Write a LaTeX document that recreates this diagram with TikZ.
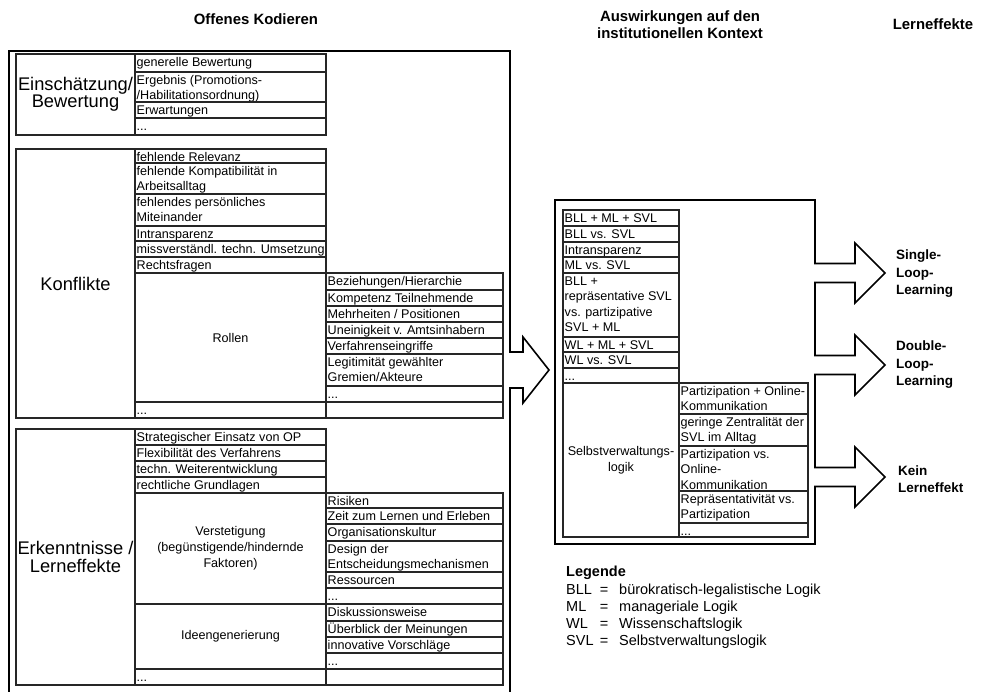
\documentclass[tikz,border=0pt]{standalone}
\usepackage{fontspec}
\setmainfont{Liberation Sans}
\newcommand\tcell[6]{%
  \draw[cell] (#2,#3) rectangle (#4,#5);
  \node[ctext] (#1) at ({#2+1.5},{#3+12.3}) {\parbox[t]{300pt}{\raggedright #6}};}
\newcommand\lcell[7]{%
  \draw[cell] (#2,#3) rectangle (#4,#5);
  \node[#6] (#1) at ({(#2+#4)/2},{(#3+#5)/2}) {#7};}
\begin{document}
\begin{tikzpicture}[x=1pt,y=-1pt,
  cell/.style={draw=black!85, line width=1.1pt},
  box/.style={draw=black, line width=1.6pt, line join=miter},
  ctext/.style={anchor=base west, inner sep=0pt, font=\fontsize{12.6}{15.5}\selectfont},
  clabel/.style={align=center, inner sep=0pt, font=\fontsize{12.6}{16}\selectfont},
  biglabel/.style={align=center, inner sep=0pt, font=\fontsize{18.3}{17.5}\selectfont},
  head/.style={align=center, inner sep=0pt, font=\bfseries\fontsize{14.9}{17}\selectfont},
  alab/.style={align=left, anchor=west, inner sep=0pt, font=\bfseries\fontsize{13.5}{17.5}\selectfont},
  legh/.style={anchor=base west, inner sep=0pt, font=\bfseries\fontsize{14.5}{17}\selectfont},
  legt/.style={anchor=base west, inner sep=0pt, font=\fontsize{14.5}{17}\selectfont},
  lege/.style={anchor=base, inner sep=0pt, font=\fontsize{14.5}{17}\selectfont}]
\useasboundingbox (0,0) rectangle (982,691);
% headers
\node[head] (h1) at (256,19) {Offenes Kodieren};
\node[head] (h2) at (680,25) {Auswirkungen auf den\\institutionellen Kontext};
\node[head] (h3) at (933,24) {Lerneffekte};
% outer left box with arrow
\draw[box] (9,700) -- (9,51) -- (510,51) -- (510,352) -- (523,352) -- (523,337) -- (549,370) -- (523,403) -- (523,388) -- (510,388) -- (510,700);
% section 1
\lcell{s1}{16}{54}{135}{135}{biglabel}{Einschätzung/\\Bewertung}
\tcell{s1a}{135}{54}{326}{72}{generelle Bewertung}
\tcell{s1b}{135}{72}{326}{102}{Ergebnis (Promotions-\\/Habilitationsordnung)}
\tcell{s1c}{135}{102}{326}{118}{Erwartungen}
\tcell{s1d}{135}{118}{326}{135}{...}
% section 2
\lcell{s2}{16}{149}{135}{418}{biglabel}{Konflikte}
\tcell{s2a}{135}{149}{326}{163}{fehlende Relevanz}
\tcell{s2b}{135}{163}{326}{194}{fehlende Kompatibilität in\\Arbeitsalltag}
\tcell{s2c}{135}{194}{326}{226}{fehlendes persönliches\\Miteinander}
\tcell{s2d}{135}{226}{326}{241}{Intransparenz}
\tcell{s2e}{135}{241}{326}{257}{missverständl. techn. Umsetzung}
\tcell{s2f}{135}{257}{326}{273}{Rechtsfragen}
\lcell{s2g}{135}{273}{326}{402}{clabel}{Rollen}
\tcell{s2h}{135}{402}{326}{418}{...}
\tcell{r1}{326}{273}{503}{290}{Beziehungen/Hierarchie}
\tcell{r2}{326}{290}{503}{306}{Kompetenz Teilnehmende}
\tcell{r3}{326}{306}{503}{322}{Mehrheiten / Positionen}
\tcell{r4}{326}{322}{503}{338}{Uneinigkeit v. Amtsinhabern}
\tcell{r5}{326}{338}{503}{354}{Verfahrenseingriffe}
\tcell{r6}{326}{354}{503}{386}{Legitimität gewählter\\Gremien/Akteure}
\tcell{r7}{326}{386}{503}{402}{...}
\tcell{r8}{326}{402}{503}{418}{}
% section 3
\lcell{s3}{16}{429}{135}{685}{biglabel}{Erkenntnisse /\\Lerneffekte}
\tcell{s3a}{135}{429}{326}{445}{Strategischer Einsatz von OP}
\tcell{s3b}{135}{445}{326}{461}{Flexibilität des Verfahrens}
\tcell{s3c}{135}{461}{326}{477}{techn. Weiterentwicklung}
\tcell{s3d}{135}{477}{326}{493}{rechtliche Grundlagen}
\lcell{s3e}{135}{493}{326}{604}{clabel}{Verstetigung\\(begünstigende/hindernde\\Faktoren)}
\lcell{s3f}{135}{604}{326}{669}{clabel}{Ideengenerierung}
\tcell{s3g}{135}{669}{326}{685}{...}
\tcell{v1}{326}{493}{503}{508}{Risiken}
\tcell{v2}{326}{508}{503}{524}{Zeit zum Lernen und Erleben}
\tcell{v3}{326}{524}{503}{541}{Organisationskultur}
\tcell{v4}{326}{541}{503}{572}{Design der\\Entscheidungsmechanismen}
\tcell{v5}{326}{572}{503}{588}{Ressourcen}
\tcell{v6}{326}{588}{503}{604}{...}
\tcell{v7}{326}{604}{503}{621}{Diskussionsweise}
\tcell{v8}{326}{621}{503}{637}{Überblick der Meinungen}
\tcell{v9}{326}{637}{503}{653}{innovative Vorschläge}
\tcell{v10}{326}{653}{503}{669}{...}
\tcell{v11}{326}{669}{503}{685}{}
% middle box with three arrows
\draw[box] (555,200) -- (815,200) -- (815,263.5) -- (855,263.5) -- (855,243) -- (885,273) -- (855,303) -- (855,282.5) -- (815,282.5)
  -- (815,355.5) -- (855,355.5) -- (855,335) -- (885,365) -- (855,395) -- (855,374.5) -- (815,374.5)
  -- (815,467.5) -- (855,467.5) -- (855,447) -- (885,477) -- (855,507) -- (855,486.5) -- (815,486.5)
  -- (815,544) -- (555,544) -- cycle;
\tcell{m1}{563}{210}{679}{226}{BLL + ML + SVL}
\tcell{m2}{563}{226}{679}{242}{BLL vs. SVL}
\tcell{m3}{563}{242}{679}{257}{Intransparenz}
\tcell{m4}{563}{257}{679}{273}{ML vs. SVL}
\tcell{m5}{563}{273}{679}{337}{BLL +\\repräsentative SVL\\vs. partizipative\\SVL + ML}
\tcell{m6}{563}{337}{679}{352}{WL + ML + SVL}
\tcell{m7}{563}{352}{679}{368}{WL vs. SVL}
\tcell{m8}{563}{368}{679}{383}{...}
\lcell{m9}{563}{383}{679}{537}{clabel}{Selbstverwaltungs-\\logik}
\tcell{p1}{679}{383}{808}{414}{Partizipation + Online-\\Kommunikation}
\tcell{p2}{679}{414}{808}{446}{geringe Zentralität der\\SVL im Alltag}
\tcell{p3}{679}{446}{808}{491}{Partizipation vs.\\Online-\\Kommunikation}
\tcell{p4}{679}{491}{808}{523}{Repräsentativität vs.\\Partizipation}
\tcell{p5}{679}{523}{808}{537}{...}
% arrow labels
\node[alab] (l1) at (896,274) {Single-\\Loop-\\Learning};
\node[alab] (l2) at (896,365) {Double-\\Loop-\\Learning};
\node[alab] (l3) at (898,479) {Kein\\Lerneffekt};
% legend
\node[legh] (lg) at (566,576) {Legende};
\node[legt] (a1) at (566,594) {BLL};
\node[lege] (e1) at (604,594) {=};
\node[legt] (t1) at (619,594) {bürokratisch-legalistische Logik};
\node[legt] (a2) at (566,611) {ML};
\node[lege] (e2) at (604,611) {=};
\node[legt] (t2) at (619,611) {manageriale Logik};
\node[legt] (a3) at (566,628) {WL};
\node[lege] (e3) at (604,628) {=};
\node[legt] (t3) at (619,628) {Wissenschaftslogik};
\node[legt] (a4) at (566,645) {SVL};
\node[lege] (e4) at (604,645) {=};
\node[legt] (t4) at (619,645) {Selbstverwaltungslogik};
\end{tikzpicture}
\end{document}
